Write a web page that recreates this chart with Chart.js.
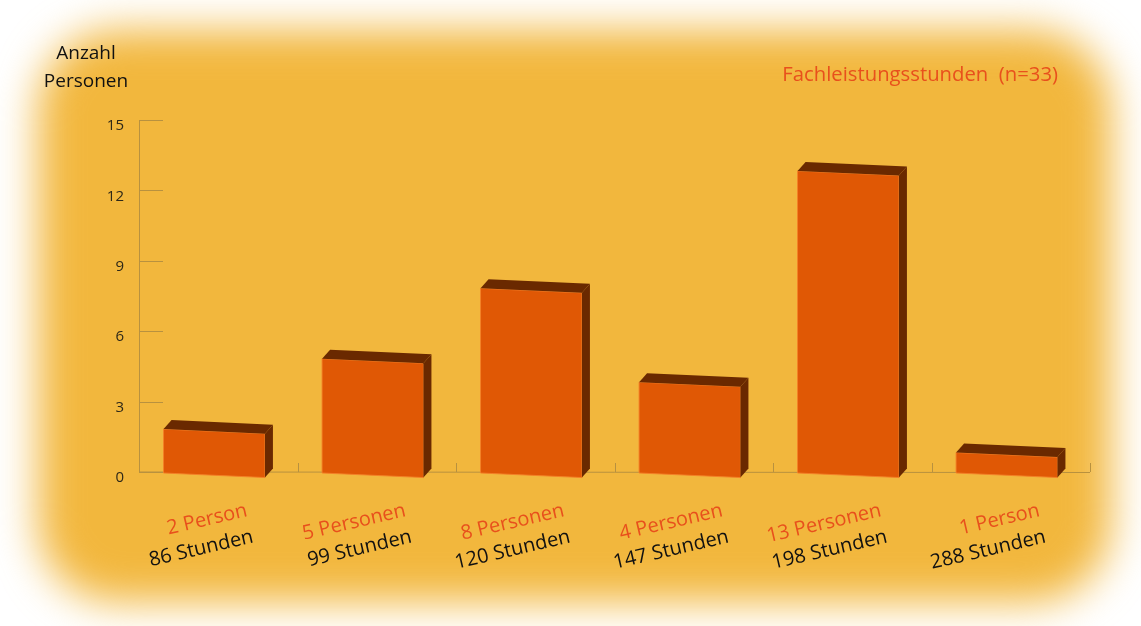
<!DOCTYPE html>
<html>
<head>
<meta charset="utf-8">
<script src="https://cdn.jsdelivr.net/npm/chart.js@4"></script>
<style>
  html, body { margin: 0; padding: 0; background: #ffffff; overflow: hidden; }
  #wrap { position: relative; width: 1141px; height: 626px; }
  #bg {
    position: absolute; left: 38px; top: 30px; right: 30px; bottom: 24px;
    border-radius: 80px;
    background: #f2b73d;
    filter: blur(21px);
  }
  #chart { position: absolute; left: 0; top: 0; }
</style>
</head>
<body>
<div id="wrap">
  <div id="bg"></div>
  <canvas id="chart" width="1141" height="626"></canvas>
</div>
<script>
// ── Data ─────────────────────────────────────────────
const personLabels = ['2 Person', '5 Personen', '8 Personen', '4 Personen', '13 Personen', '1 Person'];
const hourLabels   = ['86 Stunden', '99 Stunden', '120 Stunden', '147 Stunden', '198 Stunden', '288 Stunden'];
const personCounts = [2, 5, 8, 4, 13, 1];
const yTicks       = [0, 3, 6, 9, 12, 15];

// ── Colours ──────────────────────────────────────────
const FRONT   = '#e05805';
const DARK    = '#6a2900';
const AXIS    = '#b8913f';
const RED_TXT = '#e8501c';
const FONT    = "'Open Sans', sans-serif";

// ── Axes, ticks and labels drawn from the scales ─────
const decor = {
  id: 'decor',
  beforeDatasetsDraw(chart) {
    const { ctx, chartArea: a, scales: { x, y } } = chart;
    ctx.save();
    ctx.strokeStyle = AXIS;
    ctx.lineWidth = 1;
    ctx.beginPath();
    ctx.moveTo(a.left + 0.5, y.getPixelForValue(yTicks[yTicks.length - 1]));
    ctx.lineTo(a.left + 0.5, y.getPixelForValue(0));
    ctx.lineTo(a.right, y.getPixelForValue(0) + 0.5);
    // short inner ticks on the y axis
    yTicks.forEach(v => {
      const py = Math.round(y.getPixelForValue(v)) + 0.5;
      ctx.moveTo(a.left, py);
      ctx.lineTo(a.left + 24, py);
    });
    // category separators
    const step = (x.getPixelForValue(1) - x.getPixelForValue(0));
    for (let i = 0; i < personCounts.length; i++) {
      const px = Math.round(x.getPixelForValue(i) + step / 2) + 0.5;
      ctx.moveTo(px, y.getPixelForValue(0));
      ctx.lineTo(px, y.getPixelForValue(0) - 9);
    }
    ctx.stroke();

    // y tick labels
    ctx.fillStyle = '#2e2818';
    ctx.font = '15px ' + FONT;
    ctx.textAlign = 'right';
    ctx.textBaseline = 'middle';
    yTicks.forEach(v => ctx.fillText(String(v), a.left - 15, y.getPixelForValue(v) + 6));

    // axis title
    ctx.fillStyle = '#111';
    ctx.font = '19px ' + FONT;
    ctx.textAlign = 'center';
    ctx.textBaseline = 'alphabetic';
    ctx.fillText('Anzahl', 86, 59);
    ctx.fillText('Personen', 86, 87);

    // series title
    ctx.fillStyle = RED_TXT;
    ctx.font = '20.3px ' + FONT;
    ctx.textAlign = 'right';
    ctx.fillText('Fachleistungsstunden  (n=33)', 1058, 81);
    ctx.restore();
  },
  afterDatasetsDraw(chart) {
    const { ctx, scales: { x } } = chart;
    const meta = chart.getDatasetMeta(0);
    const d = 8, up = 9, s = 0.045;
    ctx.save();
    meta.data.forEach(el => {
      const x0 = el.x - el.width / 2;
      const x1 = el.x + el.width / 2 - d;
      const w = x1 - x0;
      const yt = el.y + 4;
      const yb = el.base + 1;
      // front
      ctx.fillStyle = FRONT;
      ctx.beginPath();
      ctx.moveTo(x0, yt);
      ctx.lineTo(x1, yt + s * w);
      ctx.lineTo(x1, yb + s * w);
      ctx.lineTo(x0, yb);
      ctx.closePath();
      ctx.fill();
      ctx.strokeStyle = 'rgba(244,128,40,0.9)';
      ctx.lineWidth = 1;
      ctx.stroke();
      // top
      ctx.fillStyle = DARK;
      ctx.beginPath();
      ctx.moveTo(x0, yt);
      ctx.lineTo(x1, yt + s * w);
      ctx.lineTo(x1 + d, yt + s * w - up);
      ctx.lineTo(x0 + d, yt - up);
      ctx.closePath();
      ctx.fill();
      // side
      ctx.beginPath();
      ctx.moveTo(x1, yt + s * w);
      ctx.lineTo(x1 + d, yt + s * w - up);
      ctx.lineTo(x1 + d, yb + s * w - up);
      ctx.lineTo(x1, yb + s * w);
      ctx.closePath();
      ctx.fill();
    });

    // rotated two-line category labels
    ctx.font = '20px ' + FONT;
    ctx.textAlign = 'right';
    ctx.textBaseline = 'alphabetic';
    personLabels.forEach((lbl, i) => {
      const cx = x.getPixelForValue(i);
      ctx.save();
      ctx.translate(cx + 30, 516);
      ctx.rotate(-13 * Math.PI / 180);
      ctx.fillStyle = RED_TXT;
      ctx.fillText(lbl, 0, 0);
      ctx.fillStyle = '#111';
      ctx.fillText(hourLabels[i], 0, 27);
      ctx.restore();
    });
    ctx.restore();
  }
};

new Chart(document.getElementById('chart'), {
  type: 'bar',
  data: {
    labels: personLabels,
    datasets: [{
      data: personCounts,
      backgroundColor: 'rgba(0,0,0,0)',
      borderWidth: 0,
      barPercentage: 0.69,
      categoryPercentage: 1
    }]
  },
  options: {
    responsive: false,
    animation: false,
    events: [],
    layout: { padding: { left: 139, top: 120, right: 51, bottom: 154 } },
    plugins: { legend: { display: false }, tooltip: { enabled: false } },
    scales: {
      x: { display: false },
      y: { display: false, min: 0, max: 15 }
    }
  },
  plugins: [decor]
});
</script>
</body>
</html>
